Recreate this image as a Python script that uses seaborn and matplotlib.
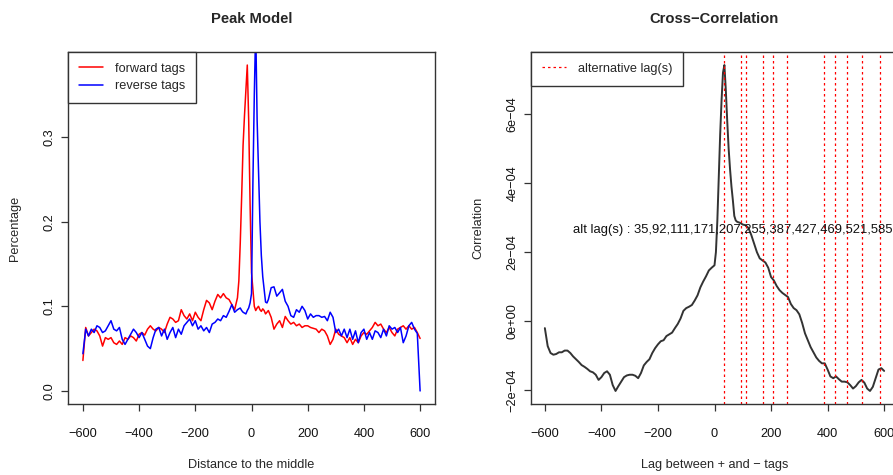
import numpy as np
import matplotlib
matplotlib.use("Agg")
import matplotlib.pyplot as plt
import seaborn as sns
from matplotlib.ticker import FuncFormatter

# Peak model: tag density around the peak summit (distance in bp)
distance = np.concatenate([np.arange(-600, -50, 10),
                           np.arange(-50, 60, 5),
                           np.arange(60, 601, 10)])

forward_tags = [
    0.036, 0.075, 0.065, 0.069, 0.073, 0.071, 0.065, 0.053, 0.063, 0.061,
    0.063, 0.057, 0.055, 0.059, 0.055, 0.063, 0.061, 0.065, 0.063, 0.059,
    0.067, 0.069, 0.066, 0.073, 0.077, 0.073, 0.071, 0.075, 0.073, 0.069,
    0.079, 0.087, 0.085, 0.081, 0.083, 0.096, 0.089, 0.085, 0.091, 0.083,
    0.093, 0.087, 0.083, 0.096, 0.107, 0.104, 0.096, 0.106, 0.114, 0.110,
    0.115, 0.110, 0.108, 0.102, 0.096,
    # -50 .. 55 (step 5)
    0.110, 0.130, 0.175, 0.230, 0.290, 0.325, 0.355, 0.385, 0.320, 0.220,
    0.140, 0.120, 0.100, 0.095, 0.098, 0.100, 0.096, 0.094, 0.097, 0.095,
    0.091, 0.093,
    # 60 .. 600
    0.095, 0.087, 0.073, 0.079, 0.083, 0.075, 0.088, 0.083, 0.079, 0.081,
    0.077, 0.079, 0.075, 0.077, 0.077, 0.075, 0.074, 0.073, 0.069, 0.073,
    0.071, 0.065, 0.055, 0.061, 0.073, 0.067, 0.065, 0.063, 0.057, 0.063,
    0.055, 0.061, 0.057, 0.065, 0.069, 0.067, 0.071, 0.075, 0.081, 0.077,
    0.079, 0.073, 0.069, 0.075, 0.069, 0.065, 0.073, 0.075, 0.077, 0.073,
    0.077, 0.073, 0.075, 0.069, 0.062,
]

reverse_tags = [
    0.044, 0.073, 0.065, 0.073, 0.069, 0.077, 0.075, 0.069, 0.071, 0.077,
    0.083, 0.073, 0.071, 0.075, 0.061, 0.055, 0.061, 0.067, 0.073, 0.069,
    0.063, 0.069, 0.061, 0.053, 0.050, 0.063, 0.073, 0.075, 0.065, 0.073,
    0.061, 0.069, 0.075, 0.063, 0.073, 0.067, 0.077, 0.081, 0.085, 0.077,
    0.083, 0.073, 0.077, 0.071, 0.075, 0.069, 0.079, 0.081, 0.085, 0.083,
    0.089, 0.087, 0.094, 0.102, 0.093,
    # -50 .. 55 (step 5)
    0.096, 0.097, 0.098, 0.095, 0.093, 0.092, 0.091, 0.095, 0.098, 0.104,
    0.115, 0.246, 0.350, 0.430, 0.320, 0.260, 0.200, 0.160, 0.135, 0.120,
    0.105, 0.104,
    # 60 .. 600
    0.108, 0.122, 0.123, 0.112, 0.116, 0.120, 0.106, 0.100, 0.089, 0.087,
    0.096, 0.093, 0.100, 0.095, 0.085, 0.091, 0.087, 0.089, 0.089, 0.087,
    0.088, 0.083, 0.093, 0.087, 0.069, 0.073, 0.065, 0.073, 0.063, 0.073,
    0.061, 0.071, 0.057, 0.069, 0.073, 0.061, 0.069, 0.061, 0.071, 0.069,
    0.063, 0.073, 0.065, 0.077, 0.073, 0.075, 0.069, 0.075, 0.057, 0.065,
    0.077, 0.081, 0.073, 0.068, 0.000,
]

# Cross-correlation between + and - strand tags
lag = np.concatenate([np.arange(-600, 0, 10),
                      np.arange(0, 80, 5),
                      np.arange(80, 601, 10)])

correlation_e4 = [
    -0.20, -0.72, -0.92, -0.97, -0.95, -0.90, -0.90, -0.85, -0.85, -0.92,
    -1.02, -1.10, -1.18, -1.27, -1.32, -1.38, -1.45, -1.48, -1.55, -1.70,
    -1.62, -1.50, -1.45, -1.55, -1.85, -2.02, -1.88, -1.75, -1.62, -1.57,
    -1.55, -1.55, -1.58, -1.65, -1.50, -1.28, -1.18, -1.10, -0.92, -0.78,
    -0.67, -0.58, -0.55, -0.43, -0.38, -0.33, -0.20, -0.08, 0.08, 0.30,
    0.38, 0.42, 0.47, 0.60, 0.75, 0.98, 1.15, 1.30, 1.47, 1.55,
    # 0 .. 75 (step 5)
    1.62, 2.00, 2.90, 4.20, 5.40, 6.40, 7.20, 7.42, 6.70, 5.80,
    5.00, 4.40, 3.90, 3.50, 3.05, 2.92,
    # 80 .. 600
    2.88, 2.85, 2.80, 2.78, 2.70, 2.50, 2.25, 2.00, 1.82, 1.76,
    1.70, 1.55, 1.28, 1.18, 1.02, 0.90, 0.82, 0.76, 0.70, 0.50,
    0.38, 0.32, 0.20, -0.05, -0.35, -0.55, -0.75, -0.90, -1.05, -1.15,
    -1.22, -1.22, -1.40, -1.60, -1.65, -1.60, -1.68, -1.75, -1.75, -1.77,
    -1.85, -1.95, -1.88, -1.77, -1.70, -1.78, -1.95, -2.02, -1.90, -1.65,
    -1.40, -1.36, -1.44,
]
correlation = np.array(correlation_e4) * 1e-4

alt_lags = [35, 92, 111, 171, 207, 255, 387, 427, 469, 521, 585]

sns.set_style("ticks")
plt.rcParams["font.family"] = ["Liberation Sans", "DejaVu Sans"]
plt.rcParams["axes.unicode_minus"] = True

MINUS = "\u2212"
EDGE = "#333333"
BASE = 9.2

fig = plt.figure(figsize=(8.93, 4.75), dpi=100)
W, H = 893.0, 475.0
ax1 = fig.add_axes([68 / W, (H - 404) / H, 367 / W, 352 / H])
ax2 = fig.add_axes([531 / W, (H - 404) / H, 367 / W, 352 / H])


def style_axes(ax):
    for sp in ax.spines.values():
        sp.set_visible(True)
        sp.set_color(EDGE)
        sp.set_linewidth(1.0)
    ax.tick_params(direction="out", length=5, width=0.9, color=EDGE,
                   labelsize=BASE, labelcolor="#111111")
    ax.tick_params(axis="x", pad=12)
    ax.tick_params(axis="y", pad=4, labelrotation=90)
    for lab in ax.get_yticklabels():
        lab.set_va("center")


legend_kw = dict(loc="upper left", borderaxespad=0, frameon=True,
                 fancybox=False, edgecolor=EDGE, framealpha=1,
                 fontsize=BASE, handlelength=1.85, handletextpad=0.95,
                 borderpad=0.85, labelspacing=0.43)

# ---- Peak model ----
sns.lineplot(x=distance, y=forward_tags, color="#ff0000", lw=1.1,
             ax=ax1, label="forward tags")
sns.lineplot(x=distance, y=reverse_tags, color="#0000ff", lw=1.1,
             ax=ax1, label="reverse tags")
ymax = max(forward_tags)
ax1.set_xlim(-653, 653)
ax1.set_ylim(-0.04 * ymax, 1.04 * ymax)
ax1.set_xticks([-600, -400, -200, 0, 200, 400, 600])
ax1.set_yticks([0.0, 0.1, 0.2, 0.3])
ax1.yaxis.set_major_formatter(FuncFormatter(lambda v, p: f"{v:.1f}"))
style_axes(ax1)
ax1.set_title("Peak Model", fontsize=10.6, fontweight="bold", pad=21)
ax1.set_xlabel("Distance to the middle", fontsize=BASE)
ax1.set_ylabel("Percentage", fontsize=BASE)
leg1 = ax1.legend(**legend_kw)
leg1.get_frame().set_linewidth(1.0)


# ---- Cross-correlation ----
def r_sci(v, pos):
    if abs(v) < 1e-12:
        return "0e+00"
    e = int(np.floor(np.log10(abs(v))))
    m = v / 10 ** e
    s = f"{m:.0f}e{'-' if e < 0 else '+'}{abs(e):02d}"
    return s.replace("-", MINUS)


sns.lineplot(x=lag, y=correlation, color="#333333", lw=1.4, ax=ax2)
for i, d in enumerate(alt_lags):
    ax2.axvline(d, color="#ff0000", lw=0.9, linestyle=(0, (2.0, 2.4)),
                label="alternative lag(s)" if i == 0 else None)
cmin, cmax = correlation.min(), correlation.max()
pad = 0.04 * (cmax - cmin)
ax2.set_xlim(-649, 649)
ax2.set_ylim(cmin - pad, cmax + pad)
ax2.set_xticks([-600, -400, -200, 0, 200, 400, 600])
ax2.set_yticks([-2e-4, 0, 2e-4, 4e-4, 6e-4])
ax2.yaxis.set_major_formatter(FuncFormatter(r_sci))
style_axes(ax2)
ax2.set_title(f"Cross{MINUS}Correlation", fontsize=10.6, fontweight="bold",
              pad=21)
ax2.set_xlabel(f"Lag between + and {MINUS} tags", fontsize=BASE)
ax2.set_ylabel("Correlation", fontsize=BASE)
leg2 = ax2.legend(**legend_kw)
leg2.get_frame().set_linewidth(1.0)
ax2.text(0.984, 0.494,
         "alt lag(s) : " + ",".join(str(d) for d in alt_lags),
         transform=ax2.transAxes, ha="right", va="center", fontsize=9.4,
         color="#111111")

for ax in (ax1, ax2):
    ax.xaxis.label.set_va("center")
    ax.xaxis.set_label_coords(0.5, (404 - 465) / 352)
    ax.yaxis.label.set_va("center")
    ax.yaxis.set_label_coords((15 - 68) / 367, 0.5)

fig.savefig("out.png", dpi=100)
